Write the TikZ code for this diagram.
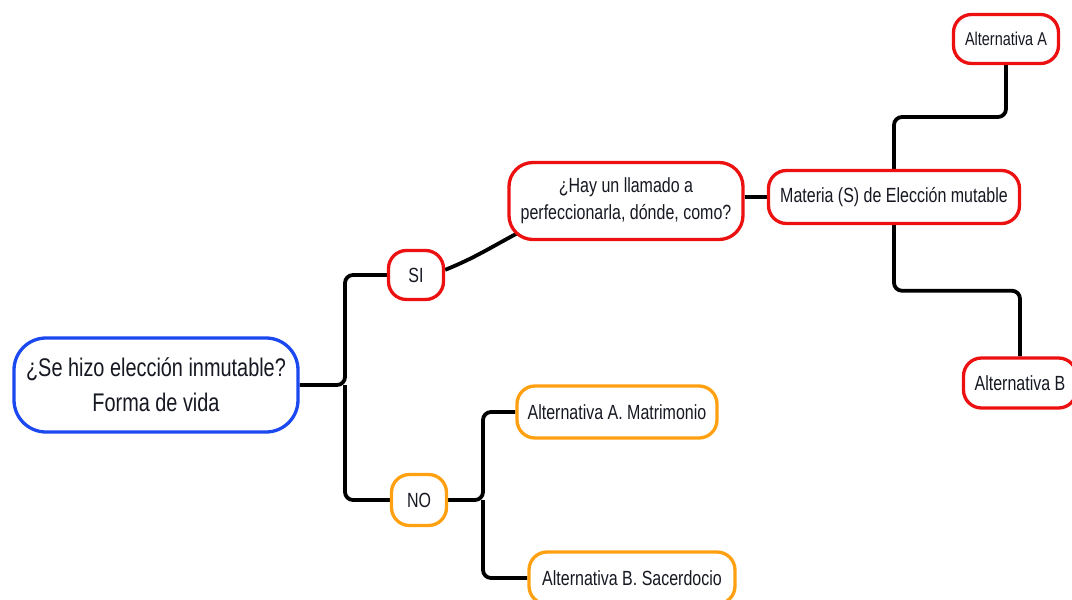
\documentclass[tikz,border=0pt]{standalone}
\usepackage{fontspec}
\setmainfont{Liberation Sans}[FakeStretch=0.78]
\usetikzlibrary{backgrounds,calc}
\definecolor{nred}{RGB}{236,16,16}
\definecolor{nblue}{RGB}{28,72,240}
\definecolor{norange}{RGB}{255,160,16}
\definecolor{ntext}{RGB}{22,24,34}
\tikzset{
  box/.style={draw, fill=white, line width=3.3pt, rounded corners=18pt, inner sep=0pt, align=center, text=ntext, font=\fontsize{20.5}{27}\selectfont},
  redbox/.style={box, draw=nred},
  orangebox/.style={box, draw=norange},
  bluebox/.style={box, draw=nblue, rounded corners=32pt, font=\fontsize{25.5}{35}\selectfont},
  link/.style={draw=black, line width=3.8pt, rounded corners=8pt},
}
\begin{document}
\begin{tikzpicture}[x=1pt,y=1pt]
\useasboundingbox (0,0) rectangle (1072,-600);
\node[bluebox, minimum width=284, minimum height=94] (main) at (156,-385) {¿Se hizo elección inmutable?\\Forma de vida};
\node[redbox, minimum width=55, minimum height=49] (si) at (416,-275) {SI};
\node[orangebox, minimum width=55, minimum height=51] (no) at (419,-500) {NO};
\node[redbox, rounded corners=24pt, minimum width=234, minimum height=77] (hay) at (626,-201) {¿Hay un llamado a\\perfeccionarla, dónde, como?};
\node[redbox, minimum width=251, minimum height=53] (mat) at (894,-197) {Materia (S) de Elección mutable};
\node[redbox, minimum width=105, minimum height=49, font=\fontsize{18.5}{22}\selectfont] (alta) at (1006,-39) {Alternativa A};
\node[redbox, minimum width=113, minimum height=50] (altb) at (1020,-383) {Alternativa B};
\node[orangebox, minimum width=200, minimum height=52] (matr) at (617,-412) {Alternativa A. Matrimonio};
\node[orangebox, minimum width=206, minimum height=52] (sac) at (632,-578) {Alternativa B. Sacerdocio};
\coordinate (j1) at (345,-385);
\coordinate (j2) at (483,-500);
\begin{scope}[on background layer]
\fill[white] (0,0) rectangle (1072,-600);
\draw[link] (main) -- (j1) |- (si);
\draw[link] (j1) |- (no);
\draw[link] (no) -- (j2) |- (matr);
\draw[link] (j2) |- (sac);
\draw[link] (si.10) to[out=22,in=208] ($(hay.south west)+(12,9)$);
\draw[link] (hay.east |- mat.west) -- (mat.west);
\draw[link] (mat.north) |- ($(mat.north)!0.5!(alta.south)$) -| (alta.south);
\draw[link] (mat.south) |- ($(mat.south)!0.5!(altb.north)$) -| (altb.north);
\end{scope}
\end{tikzpicture}
\end{document}
